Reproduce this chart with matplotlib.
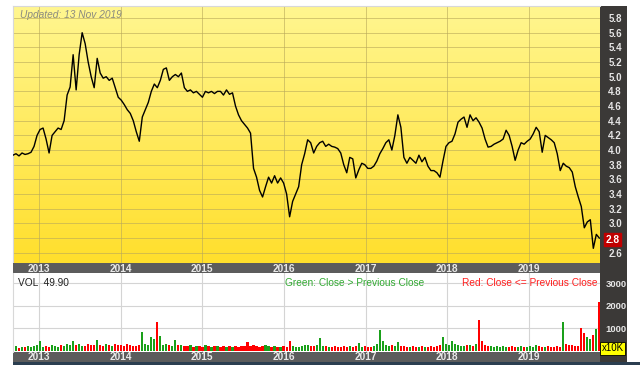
import numpy as np
import pandas as pd
import matplotlib
matplotlib.use("Agg")
import matplotlib.pyplot as plt
from matplotlib.colors import LinearSegmentedColormap
import matplotlib.transforms as mtransforms

plt.rcParams['font.family'] = ['Liberation Sans', 'DejaVu Sans']

# ---------------- data ----------------
start_date = "2012-09-06"
end_date = "2019-11-12"
price = [
    3.93, 3.95, 3.92, 3.96, 3.94, 3.95, 3.97, 4.05, 4.20, 4.28,
    4.30, 4.15, 3.96, 4.20, 4.25, 4.30, 4.28, 4.40, 4.75, 4.86,
    5.30, 4.82, 5.30, 5.60, 5.45, 5.20, 5.00, 4.85, 5.25, 5.05,
    4.98, 5.00, 4.95, 4.98, 4.85, 4.72, 4.68, 4.62, 4.55, 4.50,
    4.40, 4.25, 4.12, 4.45, 4.55, 4.65, 4.80, 4.90, 4.85, 4.95,
    5.10, 5.12, 4.95, 5.00, 5.03, 5.00, 5.05, 4.85, 4.80, 4.82,
    4.78, 4.80, 4.76, 4.72, 4.80, 4.78, 4.80, 4.77, 4.80, 4.80,
    4.75, 4.82, 4.76, 4.78, 4.60, 4.48, 4.40, 4.35, 4.30, 4.23,
    3.75, 3.63, 3.45, 3.36, 3.50, 3.63, 3.55, 3.65, 3.55, 3.62,
    3.55, 3.40, 3.09, 3.30, 3.40, 3.50, 3.80, 3.95, 4.14, 4.10,
    3.96, 4.05, 4.10, 4.12, 4.05, 4.08, 4.05, 4.04, 4.02, 3.96,
    3.80, 3.69, 3.90, 3.88, 3.62, 3.73, 3.82, 3.80, 3.75, 3.75,
    3.78, 3.85, 3.95, 4.02, 4.10, 4.14, 4.00, 4.20, 4.48, 4.31,
    3.90, 3.82, 3.90, 3.86, 3.82, 3.93, 3.84, 3.90, 3.78, 3.72,
    3.72, 3.69, 3.63, 3.85, 4.05, 4.10, 4.12, 4.22, 4.38, 4.42,
    4.45, 4.31, 4.48, 4.40, 4.44, 4.38, 4.30, 4.15, 4.04, 4.05,
    4.08, 4.10, 4.12, 4.15, 4.27, 4.20, 4.05, 3.86, 4.00, 4.10,
    4.08, 4.12, 4.15, 4.22, 4.31, 4.25, 3.97, 4.20, 4.17, 4.14,
    4.10, 3.95, 3.72, 3.82, 3.78, 3.76, 3.70, 3.50, 3.36, 3.23,
    2.94, 3.02, 3.05, 2.66, 2.85, 2.80,
]
volume = [  # units of 10K shares
    150, 200, 120, 180, 160, 220, 140, 200, 260, 450,
    180, 220, 160, 250, 200, 180, 240, 220, 300, 260,
    440, 250, 300, 220, 200, 280, 260, 240, 470, 260,
    220, 300, 240, 200, 280, 240, 260, 220, 300, 240,
    200, 220, 260, 820, 300, 260, 600, 500, 1270, 640,
    260, 300, 240, 220, 470, 260, 240, 200, 220, 260,
    180, 220, 200, 160, 240, 200, 180, 220, 200, 160,
    200, 180, 220, 160, 200, 180, 220, 200, 380, 220,
    240, 200, 180, 220, 240, 200, 160, 200, 180, 160,
    200, 140, 450, 200, 180, 160, 200, 240, 260, 220,
    200, 240, 550, 220, 200, 180, 160, 200, 180, 160,
    200, 180, 220, 160, 200, 330, 180, 200, 160, 180,
    200, 300, 900, 450, 260, 220, 240, 200, 380, 220,
    200, 180, 160, 200, 180, 160, 200, 180, 160, 200,
    180, 220, 260, 600, 300, 260, 450, 300, 240, 220,
    200, 240, 260, 220, 300, 1350, 450, 260, 220, 200,
    180, 220, 160, 200, 180, 160, 200, 180, 160, 200,
    180, 160, 200, 180, 240, 200, 180, 160, 200, 180,
    160, 200, 180, 1270, 300, 260, 240, 200, 220, 1000,
    800, 600, 500, 700, 950, 2150,
]
year_ticks = ["2013", "2014", "2015", "2016", "2017", "2018", "2019"]
price_ticks = [2.6, 2.8, 3.0, 3.2, 3.4, 3.6, 3.8, 4.0, 4.2, 4.4, 4.6, 4.8, 5.0, 5.2, 5.4, 5.6, 5.8]
vol_ticks = [1000, 2000, 3000]
last_price = 2.78
vol_last = "49.90"
updated = "Updated: 13 Nov 2019"

dates = pd.date_range(start_date, end_date, periods=len(price))
price_arr = np.array(price)
vol_arr = np.array(volume)
up = np.r_[True, price_arr[1:] > price_arr[:-1]]
year_dates = [pd.Timestamp(f"{y}-01-01") for y in year_ticks]
xlim = (pd.Timestamp("2012-09-06"), pd.Timestamp("2019-11-15"))

# ---------------- layout ----------------
W, H = 640, 365
fig = plt.figure(figsize=(W / 100, H / 100), dpi=100)
fig.patch.set_facecolor("white")

def rect(x0, y0, x1, y1):
    return [x0 / W, 1 - y1 / H, (x1 - x0) / W, (y1 - y0) / H]

# dark right-hand panel
ax_dark = fig.add_axes(rect(600, 6, 627, 362), zorder=0)
ax_dark.set_facecolor("#3b3937")
ax_dark.set_xticks([]); ax_dark.set_yticks([])
for s in ax_dark.spines.values():
    s.set_visible(False)

# bottom dark blue band
ax_band = fig.add_axes(rect(13, 362, 640, 365), zorder=0)
ax_band.set_facecolor("#2b3e50")
ax_band.set_xticks([]); ax_band.set_yticks([])
for s in ax_band.spines.values():
    s.set_visible(False)

# price panel
ax = fig.add_axes(rect(13, 6, 600, 263), zorder=2)
ylim_p = (2.46, 5.964)
cmap = LinearSegmentedColormap.from_list("yel", ["#ffdf2c", "#fff690"])
ax.imshow(np.linspace(0, 1, 256).reshape(-1, 1), cmap=cmap, origin="lower",
          extent=[0, 1, 0, 1], transform=ax.transAxes, aspect="auto", zorder=0)
ax.plot(dates, price_arr, color="black", lw=1.0, zorder=3)
ax.set_xlim(xlim)
ax.set_ylim(ylim_p)
ax.set_yticks(price_ticks)
ax.set_yticklabels(["" if abs(t - round(last_price, 1)) < 1e-9 else f"{t:.1f}"
                    for t in price_ticks])
ax.set_xticks(year_dates)
ax.grid(True, color="#b8a85a", lw=0.7, alpha=0.6, zorder=1)
ax.tick_params(axis="x", length=0, labelbottom=False)
ax.yaxis.tick_right()
ax.tick_params(axis="y", length=0, pad=6, labelsize=7, labelcolor="#e6e6e6")
for lab in ax.get_yticklabels():
    lab.set_fontweight("bold")
for s in ["top", "left"]:
    ax.spines[s].set_color("#d8d8d8")
for s in ["right", "bottom"]:
    ax.spines[s].set_visible(False)
ax.text(0.012, 0.985, updated, transform=ax.transAxes, ha="left", va="top",
        fontsize=7.3, style="italic", color="#8a8a80", zorder=4)
trans = mtransforms.blended_transform_factory(ax.transAxes, ax.transData)
ax.text(1.0 + 12.5 / 587, last_price, f"{last_price:.1f}", transform=trans,
        ha="center", va="center", fontsize=7.3, fontweight="bold", color="white",
        zorder=5, clip_on=False,
        bbox=dict(boxstyle="square,pad=0.18", fc="#c00000", ec="#c00000"))

# date strips
for (y0, y1) in [(263, 273), (352, 362)]:
    axs = fig.add_axes(rect(13, y0, 600, y1), zorder=2)
    axs.set_facecolor("#5c5c5c")
    axs.set_xlim(xlim); axs.set_ylim(0, 1)
    axs.set_xticks([]); axs.set_yticks([])
    for s in axs.spines.values():
        s.set_visible(False)
    for d, lab in zip(year_dates, year_ticks):
        axs.text(d, 0.45, lab, ha="center", va="center", fontsize=7.3,
                 fontweight="bold", color="#e8e8e8")

# volume panel
axv = fig.add_axes(rect(13, 273, 600, 352), zorder=2)
axv.set_facecolor("white")
colors = np.where(up, "#1aa01a", "#ff0000")
axv.bar(dates, vol_arr, width=10, color=colors, zorder=2, linewidth=0)
axv.set_xlim(xlim)
axv.set_ylim(-60, 3444)
axv.set_yticks(vol_ticks)
axv.set_xticks(year_dates)
axv.grid(True, color="#d4d4d4", lw=0.8, zorder=0)
axv.set_axisbelow(True)
axv.tick_params(axis="x", length=0, labelbottom=False)
axv.yaxis.tick_right()
axv.tick_params(axis="y", length=0, pad=4, labelsize=6.8, labelcolor="#e6e6e6")
for lab in axv.get_yticklabels():
    lab.set_fontweight("bold")
for s in ["top", "right", "bottom"]:
    axv.spines[s].set_visible(False)
axv.spines["left"].set_color("#d8d8d8")
axv.text(5 / 587, 0.94, f"VOL  {vol_last}", transform=axv.transAxes,
         ha="left", va="top", fontsize=7.3, color="#222222")
axv.text(0.464, 0.94, "Green: Close > Previous Close", transform=axv.transAxes,
         ha="left", va="top", fontsize=7.3, color="#33aa33")
axv.text(0.996, 0.94, "Red: Close <= Previous Close", transform=axv.transAxes,
         ha="right", va="top", fontsize=7.3, color="#ff2020")
axv.text(1.0 + 12.5 / 587, 0.05, "x10K", transform=axv.transAxes,
         ha="center", va="center", fontsize=7, color="black", zorder=5,
         clip_on=False,
         bbox=dict(boxstyle="square,pad=0.15", fc="#ffff00", ec="black", lw=0.6))

fig.savefig("out.png", dpi=100)
